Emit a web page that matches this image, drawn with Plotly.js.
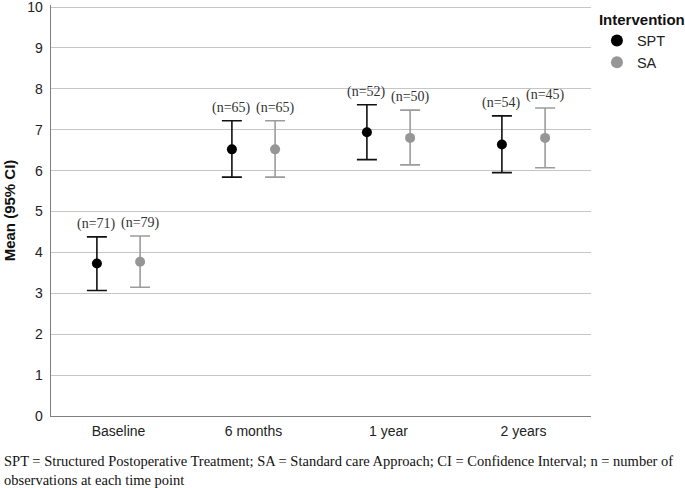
<!DOCTYPE html>
<html>
<head>
<meta charset="utf-8">
<script src="https://cdn.plot.ly/plotly-3.0.1.min.js"></script>
<style>html,body{margin:0;padding:0;background:#fff;}#chart{width:685px;height:488px;}</style>
</head>
<body>
<div id="chart"></div>
<script>
const categories = ['Baseline', '6 months', '1 year', '2 years'];
const sptMean  = [3.73, 6.52, 6.94, 6.64];
const sptLower = [3.07, 5.84, 6.27, 5.95];
const sptUpper = [4.38, 7.22, 7.61, 7.34];
const sptN     = [71, 65, 52, 54];
const saMean   = [3.77, 6.52, 6.80, 6.80];
const saLower  = [3.15, 5.84, 6.14, 6.07];
const saUpper  = [4.40, 7.22, 7.48, 7.53];
const saN      = [79, 65, 50, 45];
const yMin = 0, yMax = 10, yStep = 1;

const OFFSET = 0.16;
const idx = categories.map((c, i) => i);
const xSpt = idx.map(i => i - OFFSET);
const xSa = idx.map(i => i + OFFSET);

function errTrace(name, x, mean, lower, upper, markerColor, barColor) {
  return {
    type: 'scatter', mode: 'markers', name: name,
    x: x, y: mean,
    marker: {color: markerColor, size: 10},
    error_y: {
      type: 'data', symmetric: false,
      array: upper.map((u, i) => u - mean[i]),
      arrayminus: lower.map((l, i) => mean[i] - l),
      color: barColor, thickness: 1.6, width: 10
    },
    hoverinfo: 'skip'
  };
}

const traces = [
  errTrace('SPT', xSpt, sptMean, sptLower, sptUpper, '#000000', '#111111'),
  errTrace('SA', xSa, saMean, saLower, saUpper, '#969696', '#9c9c9c')
];

const nFont = {family: '"Liberation Serif", "Times New Roman", serif', size: 14, color: '#333'};
const annotations = [];
sptN.forEach((n, i) => annotations.push({
  x: xSpt[i], y: sptUpper[i], xref: 'x', yref: 'y', text: '(n=' + n + ')',
  showarrow: false, yanchor: 'bottom', xanchor: 'center', yshift: 3, font: nFont
}));
saN.forEach((n, i) => annotations.push({
  x: xSa[i], y: saUpper[i], xref: 'x', yref: 'y', text: '(n=' + n + ')',
  showarrow: false, yanchor: 'bottom', xanchor: 'center', yshift: 3, font: nFont
}));
annotations.push({
  xref: 'paper', yref: 'paper', x: -49/540, y: -0.084, xanchor: 'left', yanchor: 'top', align: 'left',
  showarrow: false,
  text: 'SPT = Structured Postoperative Treatment; SA = Standard care Approach; CI = Confidence Interval; n = number of<br>observations at each time point',
  font: {family: '"Liberation Serif", "Times New Roman", serif', size: 14.5, color: '#111'}
});

const layout = {
  width: 685, height: 488,
  margin: {l: 51, r: 94, t: 5, b: 72, autoexpand: false},
  paper_bgcolor: '#fff', plot_bgcolor: '#fff',
  font: {family: 'Arial, "Liberation Sans", sans-serif', color: '#222'},
  showlegend: true,
  legend: {
    x: 1.011, y: 1.0, xanchor: 'left', yanchor: 'top',
    title: {text: '<b>Intervention</b>', font: {size: 15, color: '#111'}},
    font: {size: 14.5, color: '#222'}, itemsizing: 'constant',
    itemwidth: 30, tracegroupgap: 0, bgcolor: 'rgba(0,0,0,0)'
  },
  xaxis: {
    range: [-0.5, 3.5], tickmode: 'array', tickvals: idx, ticktext: categories,
    showgrid: false, zeroline: false, showline: true, linecolor: '#7f7f7f', linewidth: 1.3,
    ticks: '', tickfont: {size: 14, color: '#222'}, ticklabelstandoff: 2, fixedrange: true
  },
  yaxis: {
    range: [yMin, yMax + 0.05], tickmode: 'linear', tick0: yMin, dtick: yStep,
    ticklabeloverflow: 'allow',
    showgrid: true, gridcolor: '#c6c6c6', gridwidth: 1,
    zeroline: false, showline: true, linecolor: '#7f7f7f', linewidth: 1.3,
    ticks: '', tickfont: {size: 14, color: '#222'}, ticklabelstandoff: 4,
    title: {text: '<b>Mean (95% CI)</b>', font: {size: 15, color: '#111'}, standoff: 8}
  },
  annotations: annotations
};

Plotly.newPlot('chart', traces, layout, {staticPlot: true, displayModeBar: false});
</script>
</body>
</html>
